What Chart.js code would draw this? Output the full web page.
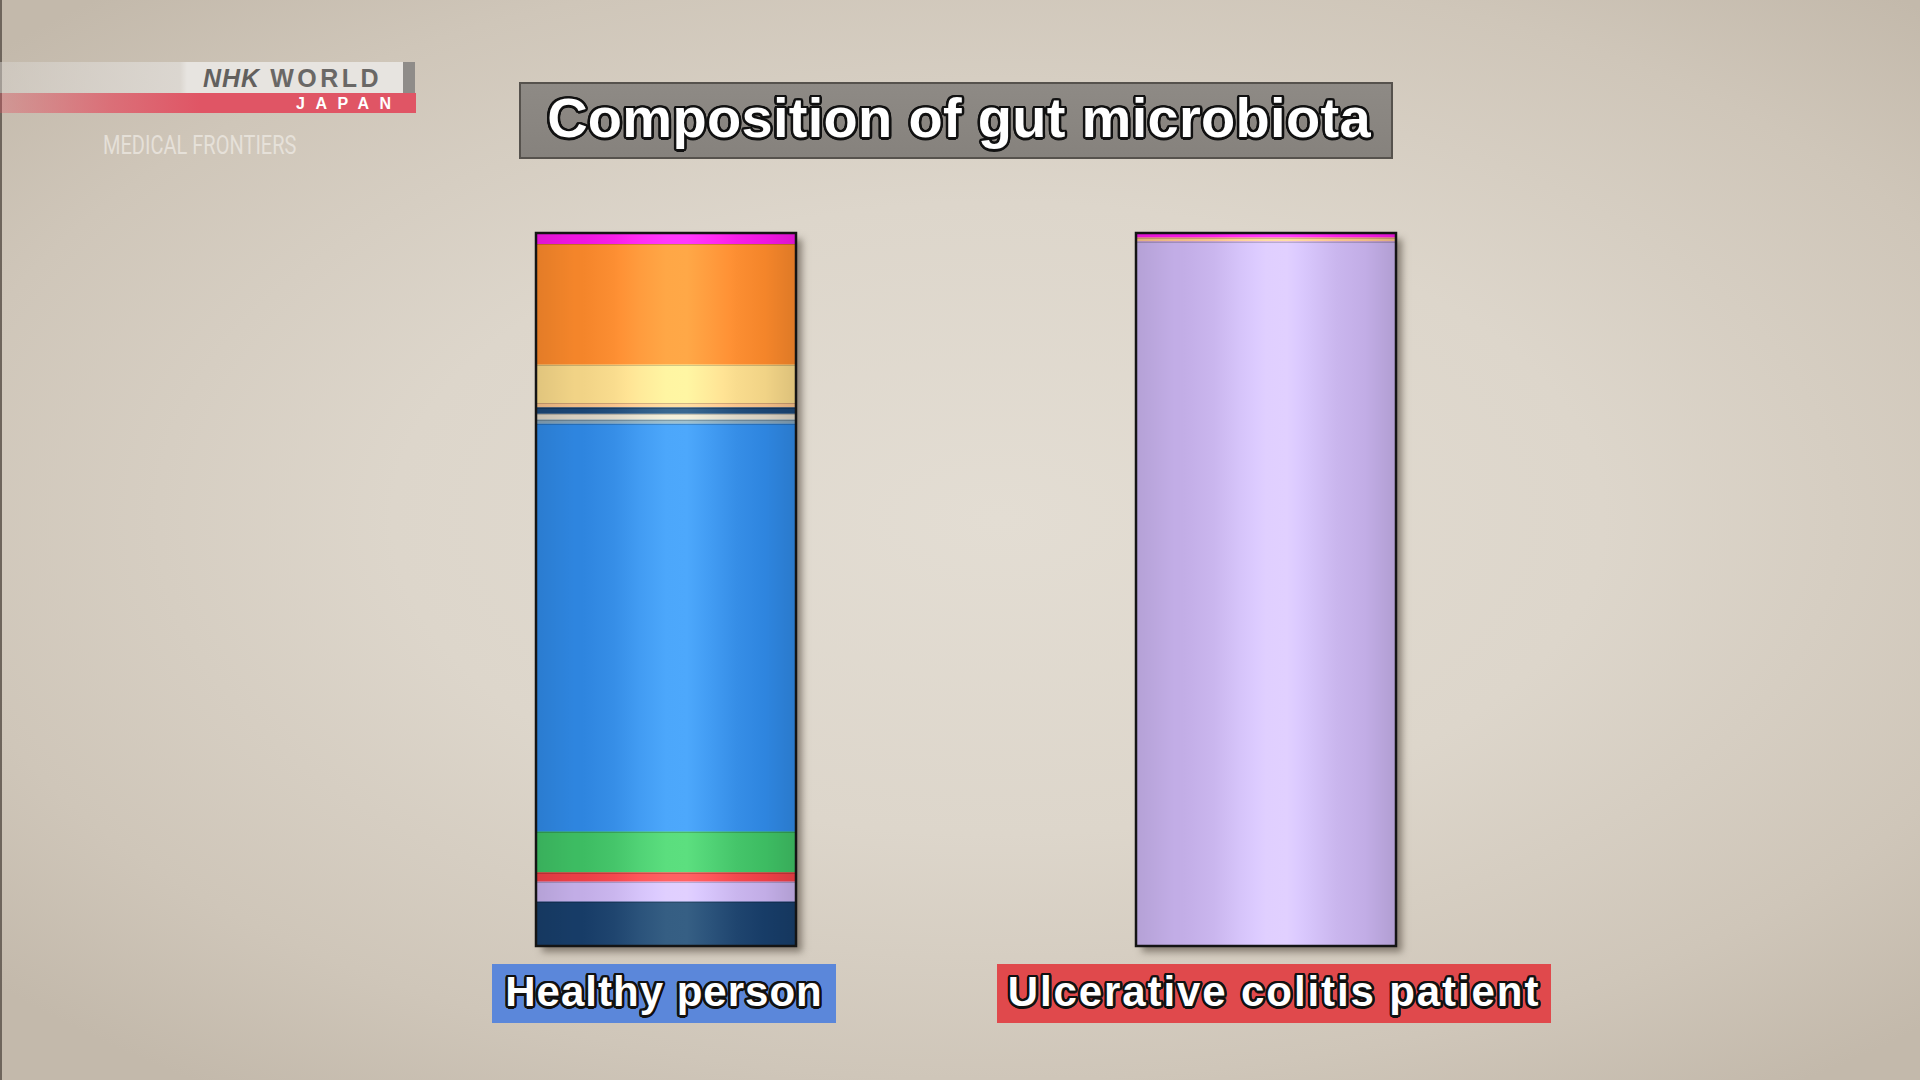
<!DOCTYPE html>
<html>
<head>
<meta charset="utf-8">
<script src="https://cdn.jsdelivr.net/npm/chart.js@4.4.1/dist/chart.umd.min.js"></script>
<style>
  html, body {
    margin: 0;
    padding: 0;
    width: 1920px;
    height: 1080px;
    overflow: hidden;
  }
  body {
    position: relative;
    background:
      radial-gradient(ellipse 70% 65% at 52% 48%, #e3ddd3 0%, #ddd6cb 45%, #cfc6b9 80%, #c3b9ab 100%);
    font-family: "Liberation Sans", Arial, sans-serif;
  }
  #edge {
    position: absolute; left: 0; top: 0; width: 2px; height: 1080px; background: #6e655c;
  }
  #chartWrap {
    position: absolute; left: 0; top: 0; width: 1920px; height: 1080px;
  }
  .outlined {
    color: #fff;
    font-weight: bold;
    white-space: nowrap;
    text-shadow:
      -2.5px 0 0 #111, 2.5px 0 0 #111, 0 -2.5px 0 #111, 0 2.5px 0 #111,
      -1.8px -1.8px 0 #111, 1.8px -1.8px 0 #111, -1.8px 1.8px 0 #111, 1.8px 1.8px 0 #111,
      -2.3px -1px 0 #111, 2.3px -1px 0 #111, -2.3px 1px 0 #111, 2.3px 1px 0 #111,
      -1px -2.3px 0 #111, 1px -2.3px 0 #111, -1px 2.3px 0 #111, 1px 2.3px 0 #111;
  }
  #titleBox {
    position: absolute; left: 519px; top: 82px; width: 870px; height: 73px;
    background: linear-gradient(#8e8a85, #86827d);
    border: 2px solid #56524d;
    display: flex; align-items: center; justify-content: center;
  }
  #titleBox span {
    font-size: 56px; line-height: 56px; margin-top: -6px; margin-left: 6px; letter-spacing: 0.3px;
  }
  .catLabel {
    position: absolute; top: 964px; height: 59px;
    display: flex; align-items: center; justify-content: center;
  }
  .catLabel span {
    font-size: 42px; letter-spacing: 1px; line-height: 42px; margin-top: -4px;
  }
  #label1 span { letter-spacing: 1.9px; }
  #logo { position: absolute; left: 0; top: 0; }
  #logoBand {
    position: absolute; left: 0; top: 62px; width: 403px; height: 31px;
    background: linear-gradient(90deg, rgba(215,211,206,0.5) 0px, rgba(222,218,213,0.85) 180px, #e7e4e0 187px, #e7e4e0 403px);
  }
  #logoTab {
    position: absolute; left: 403px; top: 62px; width: 12px; height: 31px; background: #8f8c89;
  }
  #logoRed {
    position: absolute; left: 0; top: 93px; width: 416px; height: 20px;
    background: linear-gradient(90deg, rgba(224,84,100,0.35) 0px, rgba(224,84,100,0.75) 110px, #e05565 200px, #e05565 416px);
  }
  #logoNhk {
    position: absolute; left: 203px; top: 63px; height: 30px;
    font-size: 25px; font-weight: bold; color: #62605e; line-height: 30px; white-space: nowrap;
  }
  #logoNhk i { letter-spacing: 1px; margin-right: 10px; }
  #logoNhk b { letter-spacing: 3.5px; color: #6a6866; }
  #logoJapan {
    position: absolute; left: 296px; top: 94px; height: 19px;
    font-size: 16px; font-weight: bold; color: #fff; letter-spacing: 10.5px; line-height: 19px;
  }
  #logoShow {
    position: absolute; left: 103px; top: 132px;
    font-family: "Liberation Sans Narrow", "Roboto", sans-serif;
    font-size: 26px; color: rgba(238,234,228,0.75); line-height: 26px;
    transform: scaleX(0.77); transform-origin: left top; white-space: nowrap;
  }
</style>
</head>
<body>
<div id="edge"></div>
<div id="logo">
  <div id="logoBand"></div>
  <div id="logoTab"></div>
  <div id="logoRed"></div>
  <div id="logoNhk"><i>NHK</i><b>WORLD</b></div>
  <div id="logoJapan">JAPAN</div>
  <div id="logoShow">MEDICAL FRONTIERS</div>
</div>
<div id="titleBox"><span class="outlined" id="titleText"></span></div>
<div id="chartWrap"><canvas id="chart" width="1920" height="1080"></canvas></div>
<div class="catLabel" id="label0" style="left:492px;width:344px;background:#5b87da;"><span class="outlined"></span></div>
<div class="catLabel" id="label1" style="left:997px;width:554px;background:#e0494c;"><span class="outlined"></span></div>

<script>
  // Chart text
  const chartTitle = "Composition of gut microbiota";
  const categories = ["Healthy person", "Ulcerative colitis patient"];

  // Bacterial groups, bottom of the bar to the top
  const groups = [
    "Group 1", "Group 2", "Group 3", "Group 4", "Group 5", "Group 6",
    "Group 7", "Group 8", "Group 9", "Group 10", "Group 11", "Group 12",
  ];

  // Share of each group (%)
  const healthyValues = [6.2, 2.8, 1.3, 5.7, 57.2, 0.6, 0.8, 0.9, 0.6, 5.4, 16.9, 1.6];
  const patientValues = [0, 98.8, 0, 0, 0, 0, 0, 0, 0.5, 0, 0, 0.7];

  const groupColors = [
    "#173c67", "#c2ade6", "#ec3f46", "#3dbc62", "#2e85df", "#7f9db2",
    "#d6cebf", "#1a4574", "#f0bb86", "#f1d386", "#f4852a", "#ef16e0",
  ];

  document.getElementById("titleText").innerText = chartTitle;
  document.querySelector("#label0 span").innerText = categories[0];
  document.querySelector("#label1 span").innerText = categories[1];

  function stackBox(chart, i) {
    const y = chart.scales.y;
    const bar = chart.getDatasetMeta(0).data[i];
    let total = 0;
    chart.data.datasets.forEach((ds) => (total += ds.data[i]));
    return {
      left: bar.x - bar.width / 2,
      right: bar.x + bar.width / 2,
      top: y.getPixelForValue(total),
      bottom: y.getPixelForValue(0),
    };
  }

  // Shadow under each full stack
  const barShadow = {
    id: "barShadow",
    beforeDatasetsDraw(chart) {
      const ctx = chart.ctx;
      chart.data.labels.forEach((_, i) => {
        const b = stackBox(chart, i);
        ctx.save();
        ctx.shadowColor = "rgba(70,60,50,0.55)";
        ctx.shadowBlur = 7;
        ctx.shadowOffsetX = 6;
        ctx.shadowOffsetY = 6;
        ctx.fillStyle = "#777";
        ctx.fillRect(b.left, b.top, b.right - b.left, b.bottom - b.top);
        ctx.restore();
      });
    },
  };

  // Cylinder highlight and outline on each full stack
  const barGloss = {
    id: "barGloss",
    afterDatasetsDraw(chart) {
      const ctx = chart.ctx;
      const y = chart.scales.y;
      chart.data.labels.forEach((_, i) => {
        const b = stackBox(chart, i);
        const w = b.right - b.left;
        const h = b.bottom - b.top;

        ctx.save();
        // brighten the middle (additive keeps the colours saturated)
        const g = ctx.createLinearGradient(b.left, 0, b.right, 0);
        g.addColorStop(0, "rgb(0,0,0)");
        g.addColorStop(0.18, "rgb(0,0,0)");
        g.addColorStop(0.3, "rgb(8,9,8)");
        g.addColorStop(0.4, "rgb(20,23,20)");
        g.addColorStop(0.5, "rgb(30,34,28)");
        g.addColorStop(0.58, "rgb(31,35,29)");
        g.addColorStop(0.67, "rgb(20,23,20)");
        g.addColorStop(0.77, "rgb(8,9,8)");
        g.addColorStop(0.88, "rgb(0,0,0)");
        g.addColorStop(1, "rgb(0,0,0)");
        ctx.globalCompositeOperation = "lighter";
        ctx.fillStyle = g;
        ctx.fillRect(b.left, b.top, w, h);

        // slight darkening at the sides
        ctx.globalCompositeOperation = "source-over";
        const d = ctx.createLinearGradient(b.left, 0, b.right, 0);
        d.addColorStop(0, "rgba(0,0,0,0.07)");
        d.addColorStop(0.15, "rgba(0,0,0,0)");
        d.addColorStop(0.88, "rgba(0,0,0,0)");
        d.addColorStop(1, "rgba(0,0,0,0.09)");
        ctx.fillStyle = d;
        ctx.fillRect(b.left, b.top, w, h);

        // faint lines between segments
        ctx.strokeStyle = "rgba(0,0,0,0.18)";
        ctx.lineWidth = 1;
        let acc = 0;
        chart.data.datasets.forEach((ds, k) => {
          acc += ds.data[i];
          if (ds.data[i] > 0 && k < chart.data.datasets.length - 1) {
            const yy = Math.round(y.getPixelForValue(acc)) + 0.5;
            ctx.beginPath();
            ctx.moveTo(b.left, yy);
            ctx.lineTo(b.right, yy);
            ctx.stroke();
          }
        });

        ctx.strokeStyle = "#141414";
        ctx.lineWidth = 2.5;
        ctx.strokeRect(b.left, b.top, w, h);
        ctx.restore();
      });
    },
  };

  const datasets = groups.map((name, k) => ({
    label: name,
    data: [healthyValues[k], patientValues[k]],
    backgroundColor: groupColors[k],
    borderWidth: 0,
    barThickness: 260,
  }));

  new Chart(document.getElementById("chart"), {
    type: "bar",
    data: { labels: categories, datasets: datasets },
    options: {
      responsive: false,
      animation: false,
      layout: { padding: { top: 233, bottom: 134, left: 366, right: 354 } },
      scales: {
        x: { stacked: true, display: false },
        y: { stacked: true, display: false, min: 0, max: 100 },
      },
      plugins: {
        legend: { display: false },
        tooltip: { enabled: false },
      },
    },
    plugins: [barShadow, barGloss],
  });
</script>
</body>
</html>
